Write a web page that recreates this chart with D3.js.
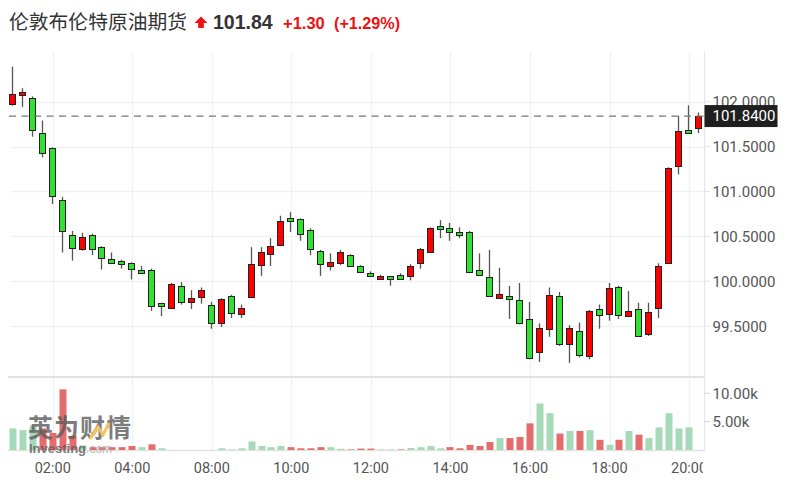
<!DOCTYPE html>
<html><head><meta charset="utf-8">
<script src="https://cdn.jsdelivr.net/npm/d3@7/dist/d3.min.js"></script>
<style>html,body{margin:0;padding:0;background:#fff;}svg{display:block;}</style>
</head><body>
<script>
const title = "伦敦布伦特原油期货";
const lastPrice = "101.84", change = "+1.30", changePct = "(+1.29%)";
const lastValue = 101.84;
const opens  = [101.98,102.08,102.04,101.65,101.48,100.91,100.51,100.36,100.52,100.38,100.25,100.23,100.20,100.13,100.13,99.755,99.70,99.95,99.76,99.82,99.74,99.53,99.83,99.63,99.82,100.17,100.30,100.40,100.70,100.69,100.57,100.34,100.17,100.20,100.29,100.17,100.09,100.03,100.06,100.07,100.06,100.20,100.32,100.61,100.59,100.55,100.55,100.12,100.05,99.82,99.83,99.79,99.58,99.21,99.47,99.83,99.30,99.44,99.17,99.69,99.63,99.94,99.61,99.69,99.42,99.70,100.20,101.28,101.68,101.71];
const highs  = [102.39,102.15,102.06,101.79,101.49,100.94,100.56,100.54,100.53,100.39,100.32,100.24,100.21,100.17,100.14,99.76,99.98,99.99,99.90,99.93,99.77,99.81,99.85,99.74,100.38,100.38,100.48,100.73,100.77,100.70,100.59,100.35,100.31,100.35,100.30,100.18,100.11,100.07,100.06,100.09,100.19,100.37,100.60,100.68,100.65,100.60,100.56,100.31,100.35,100.15,99.95,99.98,99.77,99.53,99.93,99.88,99.51,99.54,99.68,99.74,99.98,99.95,99.89,99.76,99.76,100.20,101.27,101.84,101.96,101.88];
const lows   = [101.955,101.94,101.61,101.38,100.86,100.32,100.23,100.34,100.29,100.13,100.19,100.14,100.02,100.08,99.67,99.61,99.69,99.74,99.69,99.75,99.47,99.49,99.59,99.59,99.82,100.06,100.17,100.39,100.55,100.45,100.29,100.06,100.12,100.18,100.16,100.09,100.05,100.03,99.95,100.02,100.01,100.14,100.32,100.48,100.45,100.48,100.09,100.06,99.83,99.81,99.58,99.52,99.13,99.10,99.38,99.28,99.09,99.15,99.13,99.47,99.56,99.58,99.60,99.38,99.39,99.59,100.19,101.19,101.65,101.65];
const closes = [102.09,102.11,101.68,101.43,100.94,100.56,100.36,100.49,100.36,100.26,100.21,100.20,100.13,100.10,99.73,99.725,99.97,99.77,99.81,99.90,99.54,99.80,99.64,99.70,100.19,100.32,100.39,100.67,100.67,100.52,100.36,100.19,100.21,100.32,100.17,100.10,100.06,100.06,100.03,100.03,100.17,100.36,100.59,100.58,100.55,100.52,100.10,100.06,99.84,99.86,99.80,99.53,99.14,99.48,99.85,99.29,99.48,99.17,99.67,99.62,99.92,99.63,99.67,99.39,99.66,100.17,101.26,101.67,101.65,101.84];
const volumes = [3.8,3.5,4.3,3.8,3.0,10.7,2.5,0.8,0.5,0.5,0.5,0.5,0.7,0.5,1.0,0.3,0,0,0,0,0,0.3,0.1,0.3,1.5,0.7,0.5,0.7,0.5,0.3,0.3,0.5,0.5,0.2,0.1,0.25,0.25,0.1,0.1,0.1,0.35,0.5,0.7,0.3,0.5,0.3,0.9,0.7,1.4,2.1,2.1,2.3,4.7,8.2,6.5,2.9,3.35,3.35,3.5,1.8,0.9,1.8,3.35,2.7,2.1,4.0,6.5,3.8,4.0,0];
const volColors = "gggrrrrgrrrrrgrgggggrgggggggrrrrggrrrggrggggrrrrrgrrrggrgrgrgrgrgggggg";
const tickLabels = ["02:00","04:00","08:00","10:00","12:00","14:00","16:00","18:00","20:00"];
const tickIndex  = [4,12,20,28,36,44,52,60,68];
const priceTicks = [99.5,100,100.5,101,101.5,102];
const volTicks = [5,10];

const W = 786, H = 485;
const svg = d3.select("body").append("svg").attr("width", W).attr("height", H);

const axisX = 704.5;
const x = d3.scaleBand().domain(d3.range(opens.length)).range([8, 704]);
const cx = i => x(i) + x.bandwidth()/2;
const y = d3.scaleLinear().domain([99.5, 102]).range([326.1, 101.7]);
const yv = d3.scaleLinear().domain([0, 10]).range([450, 393.3]);

// grid
const grid = svg.append("g");
grid.selectAll("line.h").data(priceTicks).join("line")
  .attr("x1", 10).attr("x2", axisX).attr("y1", d => Math.round(y(d))+0.5).attr("y2", d => Math.round(y(d))+0.5)
  .attr("stroke", "#f1f1f1").attr("stroke-width", 1.3);
grid.selectAll("line.v").data(tickIndex).join("line")
  .attr("x1", d => Math.round(cx(d))+0.5).attr("x2", d => Math.round(cx(d))+0.5).attr("y1", 52).attr("y2", 450)
  .attr("stroke", "#f1f1f1").attr("stroke-width", 1.3);

// panel separators & axes lines
svg.append("line").attr("x1", 8).attr("x2", axisX).attr("y1", 377).attr("y2", 377).attr("stroke", "#e2e2e2").attr("stroke-width", 2);
svg.append("line").attr("x1", 8).attr("x2", axisX).attr("y1", 450.5).attr("y2", 450.5).attr("stroke", "#e2e2e2").attr("stroke-width", 1.3);
svg.append("line").attr("x1", axisX).attr("x2", axisX).attr("y1", 52).attr("y2", 451).attr("stroke", "#e4e7ee").attr("stroke-width", 1.3);

// volume bars
svg.append("g").selectAll("rect").data(volumes).join("rect")
  .attr("x", (d,i) => Math.round(cx(i)) - 3.5).attr("width", 7)
  .attr("y", d => yv(d)).attr("height", d => yv(0) - yv(d))
  .attr("fill", (d,i) => volColors[i] === "g" ? "#a6d9b7" : "#e46c6c");

// watermark
const wm = svg.append("g").attr("opacity", 0.8);
wm.append("text").attr("x", 28).attr("y", 437).attr("font-family", "Noto Sans CJK SC").attr("font-weight", 700)
  .attr("font-size", 25).attr("fill", "#5c5c5c").attr("letter-spacing", "1").text("英为财情");
wm.append("path").attr("d", "M90,439 L98,427 L103,435 L109,423").attr("fill", "none").attr("stroke", "#f2b53a").attr("stroke-width", 3);
const inv = wm.append("text").attr("x", 29).attr("y", 453).attr("font-family", "Arial, Liberation Sans").attr("font-weight", 700)
  .attr("font-size", 13).attr("fill", "#5c5c5c");
inv.append("tspan").text("Investing");
inv.append("tspan").attr("fill", "#aaa").attr("font-weight", 400).attr("font-size", 12).text(".com");

// candles
const cg = svg.append("g");
const n = opens.length;
const idx = d3.range(n);
cg.selectAll("line.w").data(idx).join("line")
  .attr("x1", i => Math.round(cx(i)) - 0.5).attr("x2", i => Math.round(cx(i)) - 0.5)
  .attr("y1", i => y(highs[i])).attr("y2", i => y(lows[i]))
  .attr("stroke", "#555").attr("stroke-width", 1.3);
cg.selectAll("rect").data(idx).join("rect")
  .attr("x", i => Math.round(cx(i)) - 3.5).attr("width", 6)
  .attr("y", i => Math.round(y(Math.max(opens[i], closes[i]))) + 0.5)
  .attr("height", i => Math.max(2, Math.round(Math.abs(y(opens[i]) - y(closes[i])))))
  .attr("fill", i => closes[i] >= opens[i] ? "#ff0000" : "#33df33")
  .attr("stroke", "#222").attr("stroke-width", 1);

// last price dashed line
svg.append("line").attr("x1", 9).attr("x2", axisX).attr("y1", y(lastValue)).attr("y2", y(lastValue))
  .attr("stroke", "#777").attr("stroke-width", 1.3).attr("stroke-dasharray", "7,5.5");

// right price axis
const ra = svg.append("g").attr("transform", `translate(${axisX},0)`);
ra.selectAll("line").data(priceTicks).join("line")
  .attr("x1", 0).attr("x2", 5).attr("y1", d => y(d)).attr("y2", d => y(d)).attr("stroke", "#e0e3ea");
ra.selectAll("text").data(priceTicks).join("text")
  .attr("x", 8).attr("y", d => y(d)).attr("dy", "0.36em")
  .attr("font-family", "Roboto").attr("font-size", 15).attr("fill", "#555")
  .text(d => d3.format(".4f")(d));

// last price label
svg.append("rect").attr("x", axisX).attr("y", y(lastValue) - 11).attr("width", 73).attr("height", 22).attr("fill", "#1f1f1f");
svg.append("text").attr("x", axisX + 8).attr("y", y(lastValue)).attr("dy", "0.36em")
  .attr("font-family", "Roboto").attr("font-size", 15).attr("fill", "#fff").text(d3.format(".4f")(lastValue));

// volume axis
const va = svg.append("g").attr("transform", `translate(${axisX},0)`);
va.selectAll("line").data(volTicks).join("line")
  .attr("x1", 0).attr("x2", 5).attr("y1", d => yv(d)).attr("y2", d => yv(d)).attr("stroke", "#d0d3da");
va.selectAll("text").data(volTicks).join("text")
  .attr("x", 8).attr("y", d => yv(d)).attr("dy", "0.36em")
  .attr("font-family", "Roboto").attr("font-size", 15).attr("fill", "#555")
  .text(d => d3.format(".2f")(d) + "k");

// time axis
svg.append("defs").append("clipPath").attr("id", "xclip").append("rect").attr("x", 0).attr("y", 452).attr("width", 703).attr("height", 33);
svg.append("g").attr("clip-path", "url(#xclip)").selectAll("text").data(tickIndex).join("text")
  .attr("x", (d) => cx(d)).attr("y", 467.5).attr("dy", "0.36em").attr("text-anchor", "middle")
  .attr("font-family", "Roboto").attr("font-size", 14.5).attr("fill", "#555")
  .text((d,i) => tickLabels[i]);

// title
svg.append("text").attr("x", 9).attr("y", 29).attr("font-family", "Noto Sans CJK SC").attr("font-size", 19.8).attr("fill", "#333").text(title);
svg.append("path").attr("d", "M201,16.5 L207.5,23 L203.8,23 L203.8,28 L198.2,28 L198.2,23 L194.5,23 Z").attr("fill", "#f01010");
svg.append("text").attr("x", 213).attr("y", 28.5).attr("font-family", "Liberation Sans, Arial").attr("font-weight", 700).attr("font-size", 19.5).attr("fill", "#333").text(lastPrice);
svg.append("text").attr("x", 283).attr("y", 28.5).attr("font-family", "Liberation Sans, Arial").attr("font-weight", 700).attr("font-size", 16.5).attr("fill", "#ee1111").text(change);
svg.append("text").attr("x", 334).attr("y", 28.5).attr("font-family", "Liberation Sans, Arial").attr("font-weight", 700).attr("font-size", 16.2).attr("fill", "#ee1111").text(changePct);
</script>
</body></html>
